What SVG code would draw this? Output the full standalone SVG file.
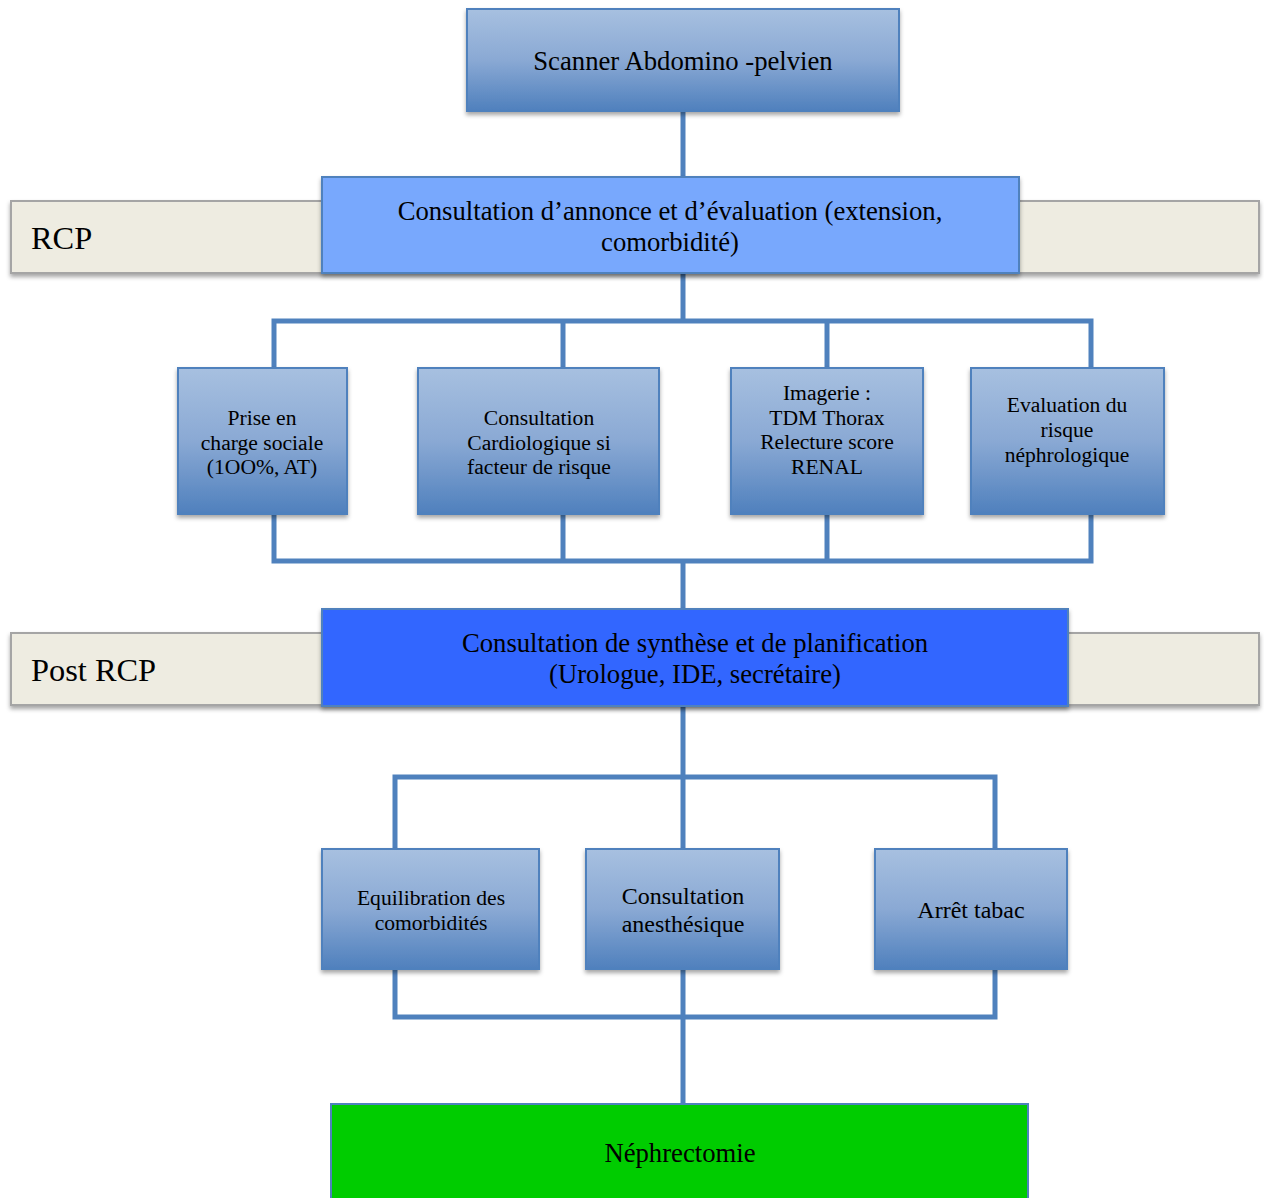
<svg xmlns="http://www.w3.org/2000/svg" width="1264" height="1198" viewBox="0 0 1264 1198">
<defs>
<linearGradient id="blueGrad" x1="0" y1="0" x2="0" y2="1">
<stop offset="0" stop-color="#a7c0e0"/>
<stop offset="0.5" stop-color="#8aa9d4"/>
<stop offset="1" stop-color="#4f80bd"/>
</linearGradient>
<filter id="shadow" x="-10%" y="-10%" width="120%" height="130%">
<feDropShadow dx="0" dy="3" stdDeviation="2" flood-color="#000" flood-opacity="0.35"/>
</filter>
</defs>
<style>
text { font-family: "Liberation Serif", "Times New Roman", serif; fill: #000; }
.conn { stroke: #4f81bd; stroke-width: 5; fill: none; stroke-linecap: butt; }
.grad { fill: url(#blueGrad); stroke: #4f81bd; stroke-width: 2; filter: url(#shadow); }
.band { fill: #eeece1; stroke: #a5a5a5; stroke-width: 2; filter: url(#shadow); }
.mid { text-anchor: middle; }
.s20 { font-size: 21.6px; }
.s22 { font-size: 24px; }
.s24 { font-size: 26.7px; }
.s30 { font-size: 32.4px; }
</style>
<rect width="1264" height="1198" fill="#fff"/>

<g id="connectors">
<line class="conn" x1="683" y1="111" x2="683" y2="177"/>
<line class="conn" x1="683" y1="273" x2="683" y2="321"/>
<polyline class="conn" points="274,368 274,321 1091,321 1091,368"/>
<line class="conn" x1="563" y1="321" x2="563" y2="368"/>
<line class="conn" x1="827" y1="321" x2="827" y2="368"/>
<polyline class="conn" points="274,514 274,561 1091,561 1091,514"/>
<line class="conn" x1="563" y1="514" x2="563" y2="561"/>
<line class="conn" x1="827" y1="514" x2="827" y2="561"/>
<line class="conn" x1="683" y1="561" x2="683" y2="609"/>
<line class="conn" x1="683" y1="706" x2="683" y2="849"/>
<polyline class="conn" points="395,849 395,777 995,777 995,849"/>
<polyline class="conn" points="395,969 395,1017 995,1017 995,969"/>
<line class="conn" x1="683" y1="969" x2="683" y2="1104"/>
</g>

<g id="band-rcp">
<rect class="band" x="11" y="201" width="1248" height="72"/>
<text class="s30" x="31" y="249">RCP</text>
</g>
<g id="band-post-rcp">
<rect class="band" x="11" y="633" width="1248" height="72"/>
<text class="s30" x="31" y="681">Post RCP</text>
</g>

<g id="node-scanner">
<rect class="grad" x="467" y="9" width="432" height="102"/>
<text class="s24 mid" x="683" y="70">Scanner Abdomino -pelvien</text>
</g>

<g id="node-annonce">
<rect x="322" y="177" width="697" height="96" fill="#78a8fd" stroke="#4f81bd" stroke-width="2" filter="url(#shadow)"/>
<text class="s24 mid" x="670" y="220">Consultation d’annonce et d’évaluation (extension,</text>
<text class="s24 mid" x="670" y="251">comorbidité)</text>
</g>

<g id="node-sociale">
<rect class="grad" x="178" y="368" width="169" height="146"/>
<text class="s20 mid" x="262" y="425">Prise en</text>
<text class="s20 mid" x="262" y="450">charge sociale</text>
<text class="s20 mid" x="262" y="474">(1OO%, AT)</text>
</g>

<g id="node-cardio">
<rect class="grad" x="418" y="368" width="241" height="146"/>
<text class="s20 mid" x="539" y="425">Consultation</text>
<text class="s20 mid" x="539" y="450">Cardiologique si</text>
<text class="s20 mid" x="539" y="474">facteur de risque</text>
</g>

<g id="node-imagerie">
<rect class="grad" x="731" y="368" width="192" height="146"/>
<text class="s20 mid" x="827" y="400">Imagerie :</text>
<text class="s20 mid" x="827" y="425">TDM Thorax</text>
<text class="s20 mid" x="827" y="449">Relecture score</text>
<text class="s20 mid" x="827" y="474">RENAL</text>
</g>

<g id="node-nephro">
<rect class="grad" x="971" y="368" width="193" height="146"/>
<text class="s20 mid" x="1067" y="412">Evaluation du</text>
<text class="s20 mid" x="1067" y="437">risque</text>
<text class="s20 mid" x="1067" y="462">néphrologique</text>
</g>

<g id="node-synthese">
<rect x="322" y="609" width="746" height="97" fill="#3366ff" stroke="#4f81bd" stroke-width="2" filter="url(#shadow)"/>
<text class="s24 mid" x="695" y="652">Consultation de synthèse et de planification</text>
<text class="s24 mid" x="695" y="683">(Urologue, IDE, secrétaire)</text>
</g>

<g id="node-equilibration">
<rect class="grad" x="322" y="849" width="217" height="120"/>
<text class="s20 mid" x="431" y="905">Equilibration des</text>
<text class="s20 mid" x="431" y="930">comorbidités</text>
</g>

<g id="node-anesthesie">
<rect class="grad" x="586" y="849" width="193" height="120"/>
<text class="s22 mid" x="683" y="904">Consultation</text>
<text class="s22 mid" x="683" y="932">anesthésique</text>
</g>

<g id="node-tabac">
<rect class="grad" x="875" y="849" width="192" height="120"/>
<text class="s22 mid" x="971" y="918">Arrêt tabac</text>
</g>

<g id="node-nephrectomie">
<rect x="331" y="1104" width="697" height="100" fill="#00cc00" stroke="#4f81bd" stroke-width="2"/>
<text class="s24 mid" x="680" y="1162">Néphrectomie</text>
</g>
</svg>
